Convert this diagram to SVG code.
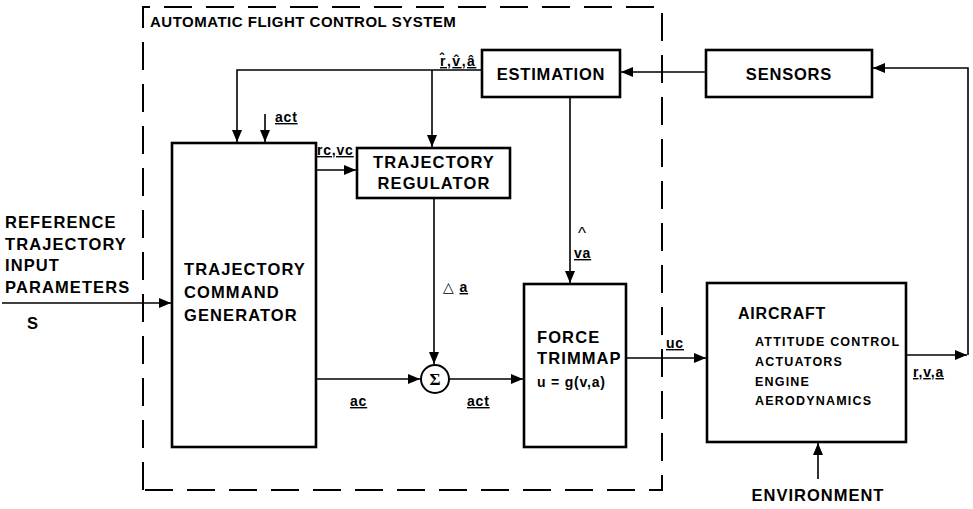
<svg xmlns="http://www.w3.org/2000/svg" width="973" height="509" viewBox="0 0 973 509">
<style>
  .box{fill:none;stroke:#000;stroke-width:2.6}
  .ln{fill:none;stroke:#000;stroke-width:1.6}
  .dash{fill:none;stroke:#000;stroke-width:2;stroke-dasharray:28 14}
  text{font-family:"Liberation Sans",Arial,sans-serif;font-weight:bold;fill:#000}
  .t{font-size:16.5px;letter-spacing:1.1px}
  .s{font-size:12.5px;letter-spacing:1.2px}
  .l{font-size:14px;letter-spacing:0.8px}
  .u{text-decoration:underline}
  .hat{font-size:17px;font-weight:normal}
</style>
<defs>
  <marker id="ah" viewBox="0 0 12 10" refX="12" refY="5" markerWidth="12" markerHeight="10" markerUnits="userSpaceOnUse" orient="auto">
    <path d="M0,0 L12,5 L0,10 Z" fill="#000"/>
  </marker>
</defs>
<rect width="973" height="509" fill="#fff"/>

<g id="afcs-boundary">
  <path class="dash" d="M143,490 V7 H662 V490 Z"/>
  <text x="150" y="27" style="font-size:15px;letter-spacing:0.5px">AUTOMATIC FLIGHT CONTROL SYSTEM</text>
</g>

<g id="estimation">
  <rect class="box" x="482" y="50" width="138" height="47"/>
  <text x="551" y="80" text-anchor="middle" style="font-size:16.5px;letter-spacing:0.8px">ESTIMATION</text>
</g>

<g id="sensors">
  <rect class="box" x="706" y="50" width="166" height="47"/>
  <text x="789" y="80" text-anchor="middle" style="font-size:16.5px;letter-spacing:0.8px">SENSORS</text>
</g>

<g id="tcg">
  <rect class="box" x="172" y="143" width="144" height="304"/>
  <text class="t" x="184" y="275">TRAJECTORY</text>
  <text class="t" x="184" y="298">COMMAND</text>
  <text class="t" x="184" y="321">GENERATOR</text>
</g>

<g id="regulator">
  <rect class="box" x="357" y="148" width="153" height="50"/>
  <text class="t" x="434" y="168" text-anchor="middle">TRAJECTORY</text>
  <text class="t" x="434" y="189" text-anchor="middle">REGULATOR</text>
</g>

<g id="sum">
  <circle cx="435" cy="379" r="14" fill="#fff" stroke="#000" stroke-width="2"/>
  <text x="435" y="385" text-anchor="middle" style="font-family:'Liberation Serif','Times New Roman',serif;font-size:17px;font-weight:bold">Σ</text>
</g>

<g id="trimmap">
  <rect class="box" x="524" y="284" width="102" height="163"/>
  <text class="t" x="537" y="343">FORCE</text>
  <text class="t" x="537" y="364">TRIMMAP</text>
  <text class="l" x="537" y="387">u = g(v,a)</text>
</g>

<g id="aircraft">
  <rect class="box" x="707" y="283" width="199" height="159"/>
  <text x="738" y="319" style="font-size:16px;letter-spacing:0.8px">AIRCRAFT</text>
  <text class="s" x="755" y="346">ATTITUDE CONTROL</text>
  <text class="s" x="755" y="366">ACTUATORS</text>
  <text class="s" x="755" y="386">ENGINE</text>
  <text class="s" x="755" y="405">AERODYNAMICS</text>
</g>

<g id="environment">
  <text class="t" x="818" y="501" text-anchor="middle" style="letter-spacing:1px">ENVIRONMENT</text>
</g>

<g id="reference-input">
  <text class="t" x="5" y="228">REFERENCE</text>
  <text class="t" x="5" y="250">TRAJECTORY</text>
  <text class="t" x="5" y="271">INPUT</text>
  <text class="t" x="5" y="293">PARAMETERS</text>
  <text class="t" x="33" y="329" text-anchor="middle">S</text>
</g>

<g id="connectors">
  <!-- reference input -->
  <path class="ln" d="M2,303 H171" marker-end="url(#ah)"/>
  <!-- estimation outputs r,v,a -->
  <path class="ln" d="M482,70 H237 V142" marker-end="url(#ah)"/>
  <path class="ln" d="M432,70 V147" marker-end="url(#ah)"/>
  <!-- act feedback into TCG -->
  <path class="ln" d="M265,114 V142" marker-end="url(#ah)"/>
  <!-- rc,vc -->
  <path class="ln" d="M316,170 H356" marker-end="url(#ah)"/>
  <!-- delta a -->
  <path class="ln" d="M434,198 V364" marker-end="url(#ah)"/>
  <!-- ac -->
  <path class="ln" d="M316,379 H420" marker-end="url(#ah)"/>
  <!-- act -->
  <path class="ln" d="M449,379 H523" marker-end="url(#ah)"/>
  <!-- va -->
  <path class="ln" d="M570,97 V283" marker-end="url(#ah)"/>
  <!-- uc -->
  <path class="ln" d="M626,358 H706" marker-end="url(#ah)"/>
  <!-- sensors to estimation -->
  <path class="ln" d="M706,72 H621" marker-end="url(#ah)"/>
  <!-- aircraft r,v,a out -->
  <path class="ln" d="M906,355 H967" marker-end="url(#ah)"/>
  <path class="ln" d="M968,355 V68 H873" marker-end="url(#ah)"/>
  <!-- environment -->
  <path class="ln" d="M818,479 V443" marker-end="url(#ah)"/>

  <!-- labels -->
  <text class="l" x="440" y="66" style="letter-spacing:1.5px"><tspan class="u">r̂</tspan>,<tspan class="u">v̂</tspan>,<tspan class="u">â</tspan></text>
  <text class="l u" x="275" y="122">act</text>
  <text class="l u" x="317" y="155">rc,vc</text>
  <text class="l" x="443" y="292"><tspan style="font-weight:normal">△</tspan> <tspan class="u">a</tspan></text>
  <text class="hat" x="578" y="239">^</text>
  <text class="l u" x="574" y="258">va</text>
  <text class="l u" x="350" y="406">ac</text>
  <text class="l u" x="467" y="406">act</text>
  <text class="l u" x="666" y="348">uc</text>
  <text class="l" x="913" y="377"><tspan class="u">r</tspan>,<tspan class="u">v</tspan>,<tspan class="u">a</tspan></text>
</g>
</svg>
